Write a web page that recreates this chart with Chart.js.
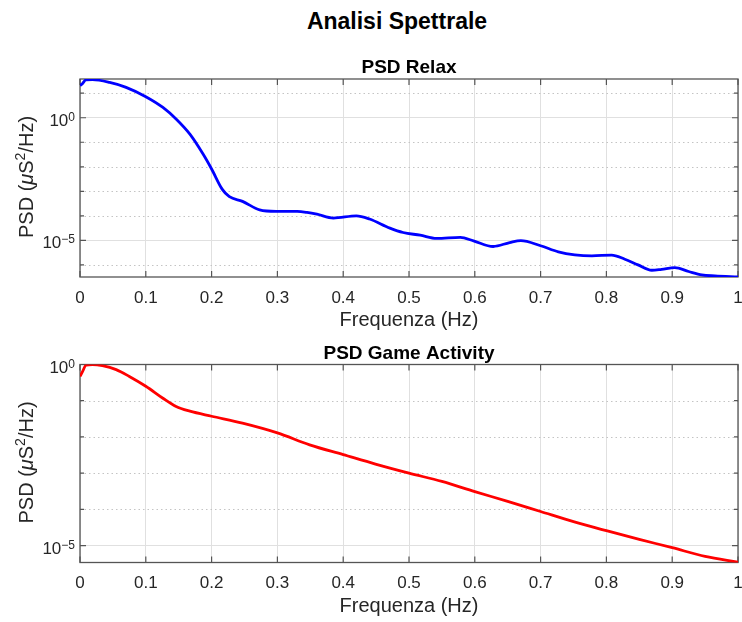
<!DOCTYPE html>
<html><head><meta charset="utf-8">
<script src="https://cdn.jsdelivr.net/npm/chart.js@4.4.1/dist/chart.umd.min.js"></script>
<style>
html,body{margin:0;padding:0;background:#fff;}
body{width:742px;height:622px;position:relative;overflow:hidden;font-family:"Liberation Sans",Arial,sans-serif;}
#title{position:absolute;left:247px;width:300px;top:10px;text-align:center;font-weight:bold;font-size:23px;line-height:23px;color:#000;}
.box{position:absolute;left:0;width:742px;}
#boxA{top:0;height:332px;}
#boxB{top:332px;height:290px;}
canvas{display:block;}
</style></head><body>
<div id="title">Analisi Spettrale</div>
<div class="box" id="boxA"><canvas id="cA" width="742" height="332"></canvas></div>
<div class="box" id="boxB"><canvas id="cB" width="742" height="290"></canvas></div>
<script>
// ---- data ----
const freqRelax = [0, 0.004, 0.009, 0.019, 0.045, 0.07, 0.1, 0.126, 0.146, 0.167, 0.187, 0.2, 0.216, 0.227, 0.247, 0.273, 0.298, 0.33, 0.345, 0.36, 0.385, 0.42, 0.44, 0.471, 0.491, 0.517, 0.542, 0.578, 0.598, 0.628, 0.653, 0.67, 0.7, 0.727, 0.752, 0.778, 0.808, 0.828, 0.848, 0.869, 0.884, 0.904, 0.925, 0.945, 0.965, 1.0];
const psdRelax = [20.4, 25.1, 34.7, 35.5, 27.5, 17.4, 7.24, 2.63, 0.891, 0.214, 0.0331, 8.13e-3, 1.23e-3, 6.03e-4, 3.89e-4, 1.74e-4, 1.51e-4, 1.51e-4, 1.38e-4, 1.17e-4, 8.13e-5, 1.0e-4, 7.41e-5, 3.16e-5, 2.09e-5, 1.62e-5, 1.20e-5, 1.32e-5, 9.55e-6, 5.62e-6, 8.13e-6, 9.77e-6, 6.03e-6, 3.39e-6, 2.57e-6, 2.34e-6, 2.51e-6, 1.70e-6, 1.0e-6, 6.03e-7, 6.61e-7, 7.76e-7, 5.37e-7, 3.89e-7, 3.55e-7, 3.24e-7];
const freqGame = [0, 0.004, 0.009, 0.019, 0.034, 0.055, 0.075, 0.1, 0.126, 0.146, 0.167, 0.2, 0.247, 0.3, 0.349, 0.4, 0.449, 0.5, 0.55, 0.6, 0.65, 0.7, 0.75, 0.8, 0.85, 0.9, 0.95, 1.0];
const psdGame = [0.468, 0.646, 0.955, 1.0, 0.933, 0.724, 0.468, 0.251, 0.117, 0.0692, 0.0513, 0.0372, 0.0240, 0.0129, 6.03e-3, 3.24e-3, 1.78e-3, 1.0e-3, 5.89e-4, 3.09e-4, 1.66e-4, 8.71e-5, 4.57e-5, 2.57e-5, 1.48e-5, 8.71e-6, 5.01e-6, 3.47e-6];
const xTicks = [0, 0.1, 0.2, 0.3, 0.4, 0.5, 0.6, 0.7, 0.8, 0.9, 1];
const xTickLabels = ['0', '0.1', '0.2', '0.3', '0.4', '0.5', '0.6', '0.7', '0.8', '0.9', '1'];
const yTicksRelax = [1e-6, 1e-5, 1e-4, 1e-3, 1e-2, 1e-1, 1, 10];
const yTicksGame = [1e-5, 1e-4, 1e-3, 1e-2, 1e-1, 1];
const yMajorTicks = [1, 1e-5];
const yMajorBase = ['10', '10'];
const yMajorExp = ['0', '\u22125'];
const rangeRelax = [3.2e-7, 38];
const rangeGame = [3.4e-6, 1.0];
const mainTitle = 'Analisi Spettrale';
const subTitles = ['PSD Relax', 'PSD Game Activity'];
const xLabel = 'Frequenza (Hz)';
// y label pieces: [text, style]  (style: n normal, i italic, s superscript)
const yLabelParts = [['PSD (', 'n'], ['\u03bc', 'i'], ['S', 'n'], ['2', 's'], ['/Hz)', 'n']];

const FONT = '"Liberation Sans", Arial, sans-serif';
const TXT = '#262626';
function majorIndex(v) {
  return yMajorTicks.findIndex(m => Math.abs(Math.log10(v) - Math.log10(m)) < 1e-6);
}
function partFont(style) {
  if (style === 'i') return 'italic 20px ' + FONT;
  if (style === 's') return '14px ' + FONT;
  return '20px ' + FONT;
}

function makeChart(id, freq, psd, color, range, yTicks, title, layout) {
  const plugin = {
    id: 'matlabAxes' + id,
    beforeDatasetsDraw(chart) {
      const {ctx, chartArea: a, scales: {x, y}} = chart;
      ctx.save();
      // minor dotted grid
      ctx.strokeStyle = '#c4c4c4';
      ctx.lineWidth = 1;
      ctx.setLineDash([1.5, 3]);
      yTicks.forEach(v => {
        if (majorIndex(v) >= 0) return;
        const py = Math.round(y.getPixelForValue(v)) + 0.5;
        if (py <= a.top + 1 || py >= a.bottom - 1) return;
        ctx.beginPath(); ctx.moveTo(a.left, py); ctx.lineTo(a.right, py); ctx.stroke();
      });
      ctx.setLineDash([]);
      // box
      ctx.strokeStyle = '#555555';
      ctx.lineWidth = 1.3;
      ctx.strokeRect(a.left, a.top, a.right - a.left, a.bottom - a.top);
      // inward ticks
      ctx.lineWidth = 1.2;
      xTicks.forEach(v => {
        const px = x.getPixelForValue(v);
        ctx.beginPath();
        ctx.moveTo(px, a.bottom); ctx.lineTo(px, a.bottom - 6);
        ctx.moveTo(px, a.top); ctx.lineTo(px, a.top + 6);
        ctx.stroke();
      });
      yTicks.forEach(v => {
        const py = y.getPixelForValue(v);
        if (py < a.top - 0.5 || py > a.bottom + 0.5) return;
        const len = majorIndex(v) >= 0 ? 6 : 4;
        ctx.beginPath();
        ctx.moveTo(a.left, py); ctx.lineTo(a.left + len, py);
        ctx.moveTo(a.right, py); ctx.lineTo(a.right - len, py);
        ctx.stroke();
      });
      ctx.restore();
    },
    afterDraw(chart) {
      const {ctx, chartArea: a, scales: {y}} = chart;
      ctx.save();
      // subplot title
      ctx.fillStyle = '#000';
      ctx.font = 'bold 19px ' + FONT;
      ctx.textAlign = 'center';
      ctx.textBaseline = 'alphabetic';
      ctx.fillText(title, (a.left + a.right) / 2, a.top - 6);
      // y tick labels with superscript exponents
      ctx.fillStyle = TXT;
      ctx.textAlign = 'left';
      yTicks.forEach(v => {
        const i = majorIndex(v);
        if (i < 0) return;
        const py = y.getPixelForValue(v);
        ctx.font = '12px ' + FONT;
        const we = ctx.measureText(yMajorExp[i]).width;
        ctx.font = '17px ' + FONT;
        const wb = ctx.measureText(yMajorBase[i]).width;
        const right = a.left - 5;
        ctx.fillText(yMajorBase[i], right - we - wb, py + 8);
        ctx.font = '12px ' + FONT;
        ctx.fillText(yMajorExp[i], right - we, py + 3);
      });
      // y axis label (rotated)
      let total = 0;
      yLabelParts.forEach(([t, s]) => { ctx.font = partFont(s); total += ctx.measureText(t).width; });
      ctx.translate(33, (a.top + a.bottom) / 2 - 1);
      ctx.rotate(-Math.PI / 2);
      let cx = -total / 2;
      yLabelParts.forEach(([t, s]) => {
        ctx.font = partFont(s);
        ctx.fillText(t, cx, s === 's' ? -8 : 0);
        cx += ctx.measureText(t).width;
      });
      ctx.restore();
    }
  };
  return new Chart(document.getElementById(id), {
    type: 'line',
    data: {
      datasets: [{
        data: freq.map((f, i) => ({x: f, y: psd[i]})),
        borderColor: color,
        borderWidth: 2.8,
        pointRadius: 0,
        fill: false,
        cubicInterpolationMode: 'monotone'
      }]
    },
    options: {
      responsive: false,
      animation: false,
      devicePixelRatio: 1,
      layout: {padding: {top: layout.top, left: 0, right: 4, bottom: 0}},
      plugins: {legend: {display: false}, tooltip: {enabled: false}, title: {display: false}},
      scales: {
        x: {
          type: 'linear', min: 0, max: 1,
          afterBuildTicks: s => { s.ticks = xTicks.map(v => ({value: v})); },
          afterFit: s => { s.height = layout.xh; s.paddingLeft = 0; s.paddingRight = 0; },
          ticks: {autoSkip: false, maxRotation: 0, padding: 11, color: TXT,
                  font: {family: FONT, size: 17}, callback: (v, i) => xTickLabels[i]},
          grid: {drawTicks: false, color: '#e0e0e0', lineWidth: 1},
          border: {display: false},
          title: {display: true, text: xLabel, color: TXT, font: {family: FONT, size: 20},
                  padding: {top: 0, bottom: layout.xpb}}
        },
        y: {
          type: 'logarithmic', min: range[0], max: range[1],
          afterBuildTicks: s => { s.ticks = yTicks.map(v => ({value: v})); },
          afterFit: s => { s.width = 80; s.paddingTop = 0; s.paddingBottom = 0; },
          ticks: {display: false, autoSkip: false},
          grid: {drawTicks: false, lineWidth: 1,
                 color: c => (c.tick && majorIndex(c.tick.value) >= 0) ? '#e0e0e0' : 'rgba(0,0,0,0)'},
          border: {display: false},
          title: {display: false}
        }
      }
    },
    plugins: [plugin]
  });
}

makeChart('cA', freqRelax, psdRelax, '#0000ff', rangeRelax, yTicksRelax, subTitles[0], {top: 79, xh: 55, xpb: 0});
makeChart('cB', freqGame, psdGame, '#ff0000', rangeGame, yTicksGame, subTitles[1], {top: 32.5, xh: 59.5, xpb: 4});
</script>
</body></html>
